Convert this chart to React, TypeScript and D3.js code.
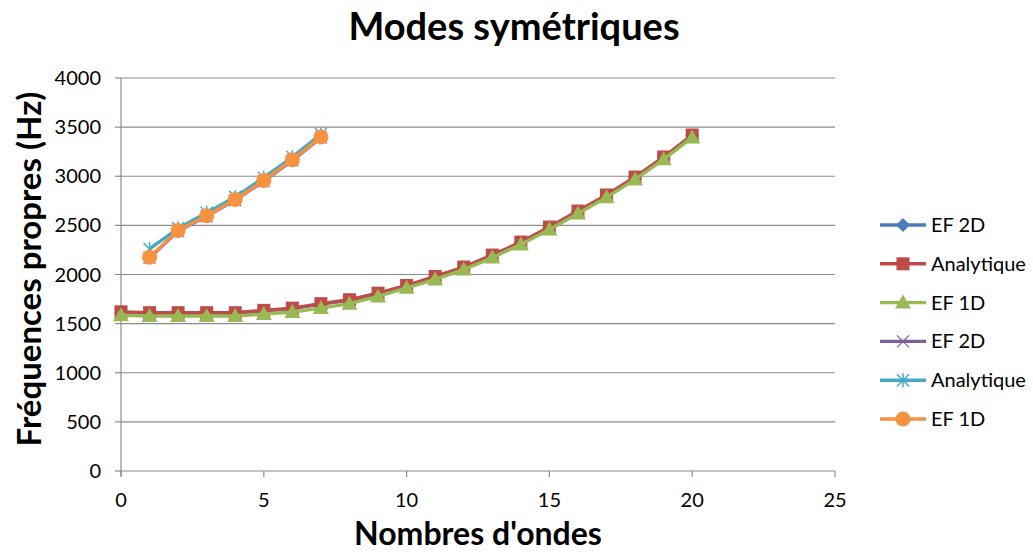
import React from "react";
import * as d3 from "d3";

const xLower = [0, 1, 2, 3, 4, 5, 6, 7, 8, 9, 10, 11, 12, 13, 14, 15, 16, 17, 18, 19, 20];
const ef2dLower = [1615, 1605, 1605, 1605, 1605, 1630, 1652, 1698, 1738, 1805, 1882, 1975, 2070, 2192, 2325, 2478, 2640, 2803, 2986, 3190, 3414];
const analytiqueLower = [1620, 1611, 1611, 1611, 1611, 1635, 1658, 1703, 1743, 1810, 1888, 1980, 2076, 2198, 2330, 2483, 2646, 2809, 2992, 3196, 3420];
const ef1dLower = [1585, 1577, 1577, 1577, 1577, 1597, 1618, 1658, 1703, 1777, 1865, 1950, 2050, 2172, 2305, 2458, 2620, 2785, 2968, 3172, 3395];

const xUpper = [1, 2, 3, 4, 5, 6, 7];
const ef2dUpper = [2170, 2442, 2592, 2757, 2951, 3162, 3393];
const analytiqueUpper = [2260, 2470, 2628, 2790, 2985, 3195, 3430];
const ef1dUpper = [2176, 2448, 2598, 2763, 2957, 3168, 3399];

const xTicks = [0, 5, 10, 15, 20, 25];
const yTicks = [0, 500, 1000, 1500, 2000, 2500, 3000, 3500, 4000];

const legendLabels = ["EF 2D", "Analytique", "EF 1D", "EF 2D", "Analytique", "EF 1D"];

type Marker = "diamond" | "square" | "triangle" | "x" | "star" | "circle";

const seriesDefs: { xs: number[]; ys: number[]; color: string; marker: Marker }[] = [
  { xs: xLower, ys: ef2dLower, color: "#4A7EBB", marker: "diamond" },
  { xs: xLower, ys: analytiqueLower, color: "#BE4B48", marker: "square" },
  { xs: xLower, ys: ef1dLower, color: "#98B954", marker: "triangle" },
  { xs: xUpper, ys: ef2dUpper, color: "#7D60A0", marker: "x" },
  { xs: xUpper, ys: analytiqueUpper, color: "#46AAC5", marker: "star" },
  { xs: xUpper, ys: ef1dUpper, color: "#F69240", marker: "circle" },
];

const FONT = "Lato, 'Open Sans', sans-serif";

function MarkerShape({ type, cx, cy, color }: { type: Marker; cx: number; cy: number; color: string }) {
  switch (type) {
    case "diamond":
      return <path d={`M${cx},${cy - 7}L${cx + 7},${cy}L${cx},${cy + 7}L${cx - 7},${cy}Z`} fill={color} />;
    case "square":
      return <rect x={cx - 6.5} y={cy - 6.5} width={13} height={13} fill={color} />;
    case "triangle":
      return <path d={`M${cx},${cy - 8}L${cx + 8},${cy + 6}L${cx - 8},${cy + 6}Z`} fill={color} />;
    case "x":
      return (
        <path d={`M${cx - 6},${cy - 6}L${cx + 6},${cy + 6}M${cx - 6},${cy + 6}L${cx + 6},${cy - 6}`} stroke={color} strokeWidth={1.2} fill="none" />
      );
    case "star":
      return (
        <path
          d={`M${cx - 6},${cy - 6}L${cx + 6},${cy + 6}M${cx - 6},${cy + 6}L${cx + 6},${cy - 6}M${cx},${cy - 7}L${cx},${cy + 7}`}
          stroke={color}
          strokeWidth={1.5}
          fill="none"
        />
      );
    case "circle":
      return <circle cx={cx} cy={cy} r={7.5} fill={color} />;
  }
}

export default function App() {
  const width = 1033;
  const height = 553;
  const left = 121;
  const right = 835;
  const top = 78;
  const bottom = 471;

  const x = d3.scaleLinear().domain([0, 25]).range([left, right]);
  const y = d3.scaleLinear().domain([0, 4000]).range([bottom, top]);

  const line = d3
    .line<[number, number]>()
    .x((d) => x(d[0]))
    .y((d) => y(d[1]));

  const legendX = 880;
  const legendY0 = 225;
  const legendStep = 38.8;

  return (
    <svg width={width} height={height} style={{ position: "absolute", left: 0, top: 0 }}>
      <rect x={0} y={0} width={width} height={height} fill="#fff" />
      <text x={514} y={40} textAnchor="middle" fontFamily={FONT} fontWeight="bold" fontSize={38} fill="#000">
        Modes symétriques
      </text>

      {yTicks.map((t) => (
        <g key={"y" + t}>
          {t > 0 && <line x1={left} x2={right} y1={y(t)} y2={y(t)} stroke="#8C8C8C" strokeWidth={1.2} />}
          <line x1={left - 6} x2={left} y1={y(t)} y2={y(t)} stroke="#8C8C8C" strokeWidth={1.2} />
          <text x={left - 20} y={y(t) + 7} textAnchor="end" fontFamily={FONT} fontSize={20} fill="#000">
            {t}
          </text>
        </g>
      ))}
      <line x1={left} x2={left} y1={top} y2={bottom + 5} stroke="#8C8C8C" strokeWidth={1.2} />
      <line x1={left} x2={right} y1={bottom} y2={bottom} stroke="#8C8C8C" strokeWidth={1.2} />
      {xTicks.map((t) => (
        <g key={"x" + t}>
          <line x1={x(t)} x2={x(t)} y1={bottom} y2={bottom + 6} stroke="#8C8C8C" strokeWidth={1.2} />
          <text x={x(t)} y={bottom + 36} textAnchor="middle" fontFamily={FONT} fontSize={20} fill="#000">
            {t}
          </text>
        </g>
      ))}

      <text x={478} y={545} textAnchor="middle" fontFamily={FONT} fontWeight="bold" fontSize={32} fill="#000">
        Nombres d'ondes
      </text>
      <text
        transform={`translate(41, ${269}) rotate(-90)`}
        textAnchor="middle"
        fontFamily={FONT}
        fontWeight="bold"
        fontSize={33}
        fill="#000"
      >
        Fréquences propres (Hz)
      </text>

      {seriesDefs.map((s, i) => {
        const pts: [number, number][] = s.xs.map((xv, j) => [xv, s.ys[j]]);
        return (
          <g key={"s" + i}>
            <path d={line(pts) || ""} fill="none" stroke={s.color} strokeWidth={3.4} strokeLinejoin="round" />
            {pts.map((p, j) => (
              <MarkerShape key={j} type={s.marker} cx={x(p[0])} cy={y(p[1])} color={s.color} />
            ))}
          </g>
        );
      })}

      {seriesDefs.map((s, i) => {
        const ly = legendY0 + i * legendStep;
        return (
          <g key={"l" + i}>
            <line x1={legendX} x2={legendX + 46} y1={ly} y2={ly} stroke={s.color} strokeWidth={3.4} />
            <MarkerShape type={s.marker} cx={legendX + 23} cy={ly} color={s.color} />
            <text x={legendX + 51} y={ly + 7} fontFamily={FONT} fontSize={20} fill="#000">
              {legendLabels[i]}
            </text>
          </g>
        );
      })}
    </svg>
  );
}
